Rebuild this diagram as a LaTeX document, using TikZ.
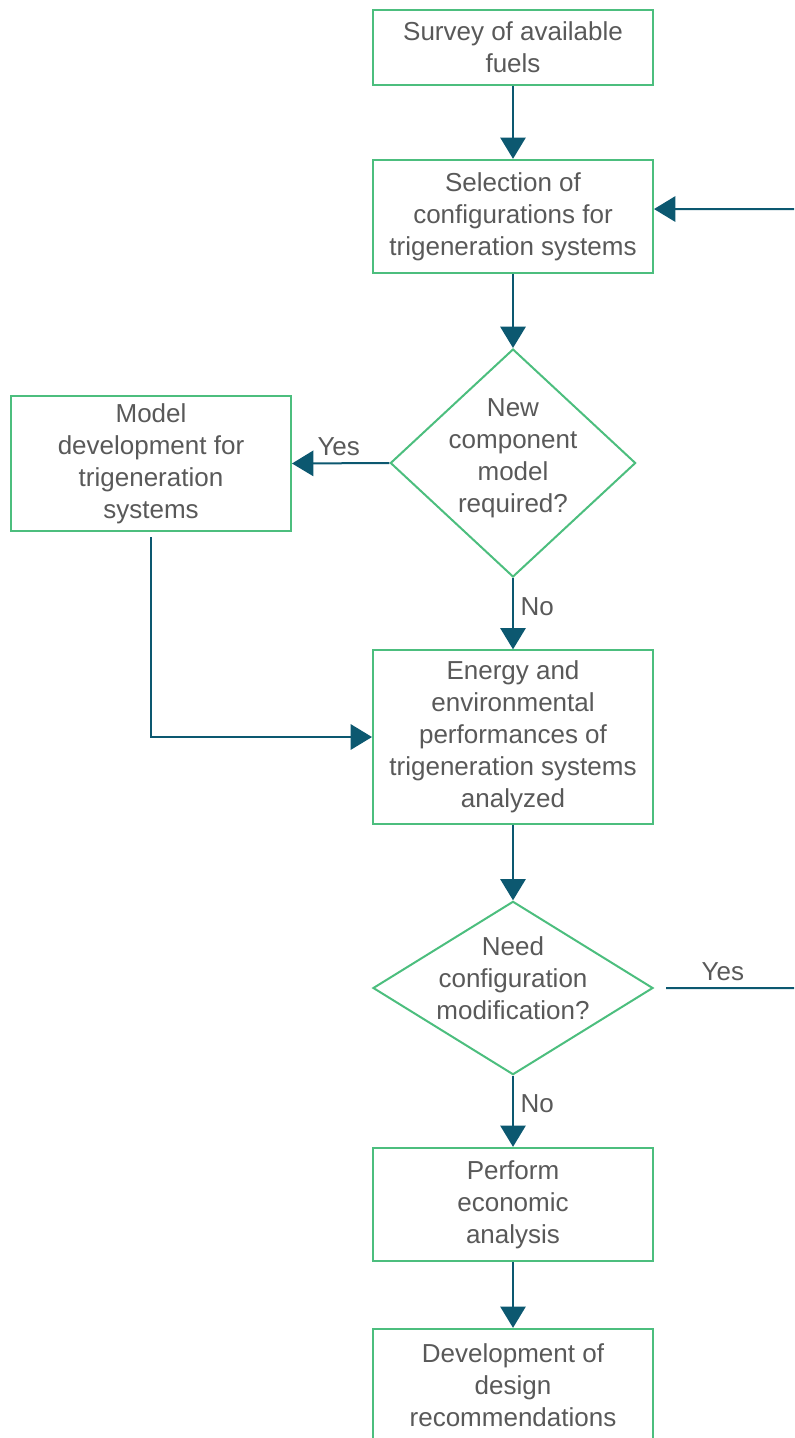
\documentclass[tikz,border=0pt]{standalone}
\usepackage{fontspec}
\setmainfont{Liberation Sans}
\usepackage{tikz}
\usetikzlibrary{shapes.geometric,arrows.meta}

\definecolor{boxgreen}{RGB}{76,190,126}
\definecolor{flowteal}{RGB}{12,88,112}
\definecolor{txtgray}{RGB}{89,89,89}

\tikzset{
  stepbox/.style={draw=boxgreen, line width=1.5pt, fill=white, minimum width=210pt, align=center,
    text=txtgray, font=\fontsize{19.5}{24}\selectfont, inner sep=0pt},
  decision/.style={draw=boxgreen, line width=1.5pt, shape=diamond, inner sep=0pt},
  dtext/.style={align=center, text=txtgray, font=\fontsize{19.5}{24}\selectfont, inner sep=0pt},
  lbl/.style={text=txtgray, font=\fontsize{19.5}{24}\selectfont, inner sep=5pt},
  link/.style={draw=flowteal, line width=1.5pt, -{Triangle[length=16pt,width=19pt]}},
  plain/.style={draw=flowteal, line width=1.5pt}
}

\begin{document}
\begin{tikzpicture}[x=0.75pt,y=0.75pt,yscale=-1,xscale=1]
\path[use as bounding box, clip] (0,0) rectangle (794,1438);

% Boxes
\node[stepbox, minimum height=56pt] (survey) at (513,47.5) {Survey of available\\fuels};
\node[stepbox, minimum height=85pt] (select) at (513,216.5) {Selection of\\configurations for\\trigeneration systems};
\node[stepbox, minimum height=101pt] (model) at (151,463.5) {Model\\development for\\trigeneration\\systems};
\node[stepbox, minimum height=130pt] (energy) at (513,737) {Energy and\\environmental\\performances of\\trigeneration systems\\analyzed};
\node[stepbox, minimum height=85pt] (econ) at (513,1204.5) {Perform\\economic\\analysis};
\node[stepbox, minimum height=85pt] (design) at (513,1385.5) {Development of\\design\\recommendations};

% Decisions
\node[decision, minimum width=184pt, minimum height=171pt] (newcomp) at (513,463) {};
\node[dtext] at ([yshift=-3.5pt]newcomp.center) {New\\component\\model\\required?};
\node[decision, minimum width=210pt, minimum height=130pt] (modif) at (513,988) {};
\node[dtext] at ([yshift=-7.5pt]modif.center) {Need\\configuration\\modification?};

% Flow
\draw[link] (survey) -- (select);
\draw[link] (select) -- (newcomp);
\draw[link] (newcomp.west) -- node[lbl,above,pos=0.52] {Yes} (model.east);
\draw[link] (newcomp) -- node[lbl,right,pos=0.4] {No} (energy);
\draw[link] ([yshift=4pt]model.south) |- (energy.west);
\draw[link] (energy) -- (modif);
\draw[link] (modif) -- node[lbl,right,pos=0.4] {No} (econ);
\draw[link] (econ) -- (design);

% Loop back
\coordinate (back) at (840,209);
\draw[link, shorten <=9pt] (modif.east) -- node[lbl,above,pos=0.37] {Yes} (modif.east -| back) -- (back) -- ([yshift=-5.6pt]select.east);

\end{tikzpicture}
\end{document}
